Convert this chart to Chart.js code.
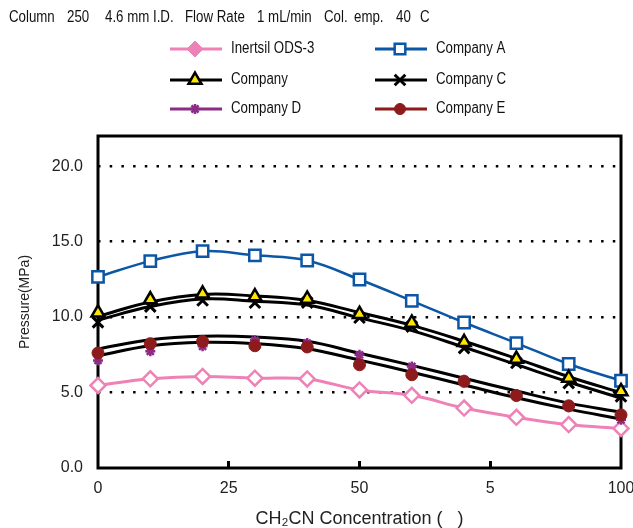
<!DOCTYPE html>
<html>
<head>
<meta charset="utf-8">
<script src="https://cdn.jsdelivr.net/npm/chart.js@4/dist/chart.umd.min.js"></script>
<style>
  body { margin: 0; background: #fff; }
  canvas { display: block; }
</style>
</head>
<body>
<canvas id="pressureChart" width="633" height="528"></canvas>
<script>
// acetonitrile concentration (%)
const concentration = [0, 10, 20, 30, 40, 50, 60, 70, 80, 90, 100];

const inertsil = [5.47, 5.91, 6.07, 5.95, 5.9, 5.17, 4.82, 3.97, 3.36, 2.88, 2.62];
const companyA = [12.67, 13.71, 14.37, 14.09, 13.75, 12.49, 11.08, 9.64, 8.28, 6.89, 5.78];
const companyB = [10.28, 11.16, 11.54, 11.36, 11.2, 10.19, 9.61, 8.33, 7.22, 5.96, 5.07];
const companyC = [9.65, 10.7, 11.1, 10.95, 10.96, 9.96, 9.37, 7.95, 6.96, 5.63, 4.74];
const companyD = [7.13, 7.73, 8.06, 8.46, 8.28, 7.5, 6.73, 5.85, 4.9, 4.02, 3.19];
const companyE = [7.62, 8.24, 8.39, 8.1, 8.02, 6.84, 6.18, 5.74, 4.8, 4.12, 3.52];

// black trend curves drawn through the black-line series
const fitB = [10.05, 11.0, 11.5, 11.4, 11.1, 10.3, 9.45, 8.4, 7.25, 6.05, 5.0];
const fitC = [9.8, 10.7, 11.2, 11.05, 10.8, 9.95, 9.1, 8.0, 6.85, 5.7, 4.63];
const fitE = [7.89, 8.5, 8.73, 8.68, 8.4, 7.6, 6.8, 5.95, 5.1, 4.3, 3.7];
const fitD = [7.44, 8.1, 8.33, 8.24, 7.9, 7.15, 6.35, 5.5, 4.65, 3.9, 3.25];

const seriesNames = ['Inertsil ODS-3', 'Company A', 'Company', 'Company C', 'Company D', 'Company E'];
const xTicks = [0, 25, 50, 75, 100];
const xTickLabels = ['0', '25', '50', '5', '100'];
const yTicks = [0, 5, 10, 15, 20];

const PINK = '#ee82b6';
const BLUE = '#0b57a6';
const YELLOW = '#ffe600';
const PURPLE = '#8c2c86';
const DARKRED = '#8e1b1b';

const REGULAR = '"Liberation Sans", Arial, sans-serif';

const pts = arr => arr.map((v, i) => ({ x: concentration[i], y: v }));

function markers(label, data, style, fill, stroke, r, bw, order) {
    return {
        label, data: pts(data), showLine: false, order, clip: false,
        pointStyle: style, pointRadius: r, pointBackgroundColor: fill,
        pointBorderColor: stroke, pointBorderWidth: bw, borderColor: stroke
    };
}
function curve(data, color, width) {
    return {
        label: '', data: pts(data), showLine: true, order: 20, clip: false,
        borderColor: color, borderWidth: width, pointRadius: 0, tension: 0.4,
        fill: false
    };
}

const datasets = [
    curve(fitB, '#000', 3),
    curve(fitC, '#000', 3),
    curve(fitE, '#000', 3),
    curve(fitD, '#000', 3),
    Object.assign(markers(seriesNames[0], inertsil, 'rectRot', '#fff', PINK, 7.5, 2.5, 6),
        { showLine: true, borderWidth: 3, tension: 0.4 }),
    Object.assign(markers(seriesNames[1], companyA, 'rect', '#fff', BLUE, 8, 2.5, 5),
        { showLine: true, borderWidth: 2.5, tension: 0.4 }),
    markers(seriesNames[2], companyB, 'triangle', YELLOW, '#000', 7.5, 2.5, 1),
    markers(seriesNames[3], companyC, 'crossRot', '#000', '#000', 7.5, 3, 2),
    markers(seriesNames[4], companyD, 'star', PURPLE, PURPLE, 5, 2.5, 4),
    markers(seriesNames[5], companyE, 'circle', DARKRED, DARKRED, 6, 1, 3)
];

const legendItems = [
    { line: PINK, style: 'rectRot', fill: PINK, stroke: PINK, r: 8, bw: 1 },
    { line: BLUE, style: 'rect', fill: '#fff', stroke: BLUE, r: 7.5, bw: 2.5 },
    { line: '#000', style: 'triangle', fill: YELLOW, stroke: '#000', r: 7.5, bw: 2.5 },
    { line: '#000', style: 'crossRot', fill: '#000', stroke: '#000', r: 7.5, bw: 3 },
    { line: PURPLE, style: 'star', fill: PURPLE, stroke: PURPLE, r: 5, bw: 2.5 },
    { line: DARKRED, style: 'circle', fill: DARKRED, stroke: DARKRED, r: 5.5, bw: 1 }
];

// the original uses a narrow face; squeeze the regular one
function narrowText(ctx, text, x, y) {
    ctx.save();
    ctx.translate(x, y);
    ctx.scale(0.83, 1);
    ctx.fillText(text, 0, 0);
    ctx.restore();
}

const headerPlugin = {
    id: 'header',
    afterDraw(chart) {
        const ctx = chart.ctx;
        ctx.save();
        ctx.fillStyle = '#111';
        ctx.font = '16px ' + REGULAR;
        ctx.textBaseline = 'middle';
        const parts = [['Column', 9], ['250', 67], ['4.6 mm I.D.', 105], ['Flow Rate', 185],
            ['1 mL/min', 257], ['Col.', 324], ['emp.', 354], ['40', 396], ['C', 420]];
        parts.forEach(p => narrowText(ctx, p[0], p[1], 18));

        const cols = [170, 375];
        const rows = [49, 80, 109];
        legendItems.forEach((it, i) => {
            const x = cols[i % 2];
            const y = rows[Math.floor(i / 2)];
            ctx.strokeStyle = it.line;
            ctx.lineWidth = 3;
            ctx.beginPath();
            ctx.moveTo(x, y);
            ctx.lineTo(x + 52, y);
            ctx.stroke();
            ctx.fillStyle = it.fill;
            ctx.strokeStyle = it.stroke;
            ctx.lineWidth = it.bw;
            Chart.helpers.drawPoint(ctx, { pointStyle: it.style, radius: it.r, rotation: 0, borderWidth: it.bw }, x + 25, y);
            ctx.fillStyle = '#111';
            narrowText(ctx, seriesNames[i], x + 61, y);
        });
        ctx.restore();
    }
};

const framePlugin = {
    id: 'frame',
    beforeDatasetsDraw(chart) {
        const { ctx, chartArea: a } = chart;
        ctx.save();
        ctx.strokeStyle = '#000';
        ctx.lineWidth = 3;
        ctx.strokeRect(a.left, a.top, a.right - a.left, a.bottom - a.top);
        ctx.restore();
    }
};

new Chart(document.getElementById('pressureChart'), {
    type: 'scatter',
    data: { datasets },
    options: {
        responsive: false,
        animation: false,
        devicePixelRatio: 1,
        layout: { padding: { top: 136, right: 12, left: 0, bottom: 0 } },
        plugins: { legend: { display: false }, tooltip: { enabled: false } },
        scales: {
            x: {
                type: 'linear', min: 0, max: 100,
                afterBuildTicks: s => { s.ticks = xTicks.map(v => ({ value: v })); },
                afterFit: s => { s.height = 60; s.paddingLeft = 0; s.paddingRight = 0; },
                ticks: {
                    padding: 18, color: '#222', font: { family: REGULAR, size: 16 },
                    callback: (v, i) => xTickLabels[i]
                },
                grid: {
                    drawOnChartArea: false, drawTicks: true, tickLength: -7, lineWidth: 3,
                    color: c => (c.tick && (c.tick.value === 0 || c.tick.value === 100)) ? 'rgba(0,0,0,0)' : '#000'
                },
                border: { display: false },
                title: {
                    display: true, text: 'CH\u2082CN Concentration (   )', color: '#222',
                    font: { family: REGULAR, size: 18, lineHeight: 1 }, padding: { top: 0, bottom: 0 }
                }
            },
            y: {
                type: 'linear', min: 0, max: 22,
                afterBuildTicks: s => { s.ticks = yTicks.map(v => ({ value: v })); },
                afterFit: s => { s.width = 98; s.paddingTop = 0; s.paddingBottom = 0; },
                ticks: {
                    padding: 15, color: '#222', font: { family: REGULAR, size: 16 },
                    callback: v => v.toFixed(1)
                },
                grid: {
                    drawTicks: false, lineWidth: 2.5,
                    color: c => (c.tick && c.tick.value === 0) ? 'rgba(0,0,0,0)' : '#000'
                },
                border: { display: false, dash: [2.5, 9.2] },
                title: {
                    display: true, text: 'Pressure(MPa)', color: '#222',
                    font: { family: REGULAR, size: 14 }, padding: { top: 17, bottom: 0 }
                }
            }
        }
    },
    plugins: [framePlugin, headerPlugin]
});
</script>
</body>
</html>
